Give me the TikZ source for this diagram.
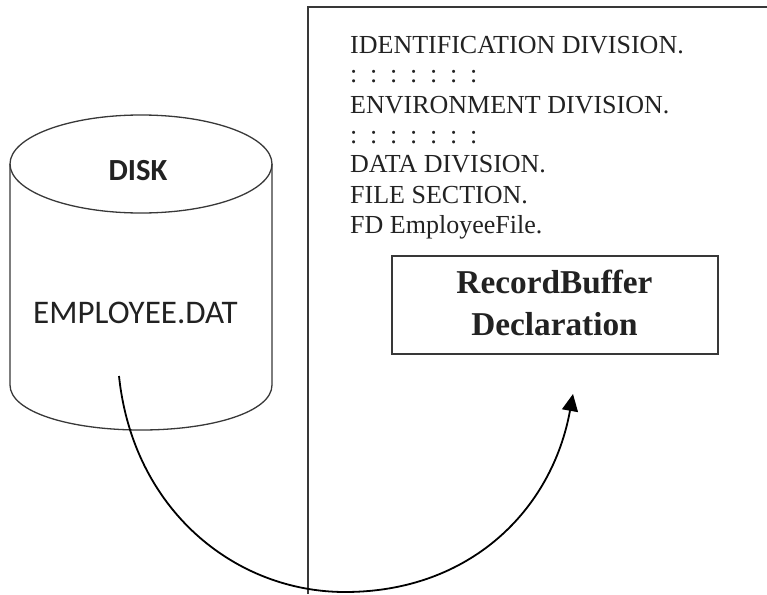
\documentclass[tikz,border=0pt]{standalone}
\usepackage{fontspec}
\setmainfont{Liberation Serif}
\newfontfamily\calibrifont{Carlito}
\usetikzlibrary{arrows.meta}
\definecolor{ink}{HTML}{222222}
\newcommand\widewords{\spaceskip 10.6pt\relax}
\tikzset{
  outline/.style={draw=ink!90!white,line width=1.3pt},
  codeline/.style={anchor=base west,inner sep=0pt,font=\fontsize{26}{26}\selectfont,text=ink},
  disklabel/.style={inner sep=0pt,anchor=base,text=ink},
  boxlabel/.style={inner sep=0pt,anchor=base,text=ink,font=\bfseries\fontsize{33.3}{33.3}\selectfont},
  flow/.style={draw=black,line width=1.8pt,-{Triangle[length=17pt,width=16pt]}}
}
\begin{document}
\begin{tikzpicture}[x=1pt,y=-1pt]
\useasboundingbox (0,0) rectangle (767,594);
% disk
\draw[outline] (10,164) -- (10,385) .. controls (10,412) and (70,430) .. (141,430) .. controls (212,430) and (272,412) .. (272,385) -- (272,164);
\draw[outline] (141,164) ellipse [x radius=131,y radius=49];
\node[disklabel,font=\calibrifont\bfseries\fontsize{30.7}{30.7}\selectfont] (disk) at (138,180) {DISK};
\node[disklabel,font=\calibrifont\fontsize{33}{33}\selectfont] (file) at (135.5,323) {EMPLOYEE.DAT};
% program panel
\draw[outline] (767,7) -- (308,7) -- (308,594);
\node[codeline] (l1) at (350,53) {IDENTIFICATION DIVISION.};
\node[codeline] (l2) at (350,82) {\widewords : : : : : : :};
\node[codeline] (l3) at (350,113) {ENVIRONMENT DIVISION.};
\node[codeline] (l4) at (350,143) {\widewords : : : : : : :};
\node[codeline] (l5) at (350,172) {DATA DIVISION.};
\node[codeline] (l6) at (350,203) {FILE SECTION.};
\node[codeline] (l7) at (350,233) {FD EmployeeFile.};
% record buffer
\node[outline,draw,minimum width=326pt,minimum height=98pt,inner sep=0pt] (buf) at (555,305) {};
\node[boxlabel] (b1) at (554.5,293) {RecordBuffer};
\node[boxlabel] (b2) at (554.5,335.5) {Declaration};
% arrow
\coordinate (from) at (119,376);
\coordinate (low) at (345,592);
\coordinate (to) at (573,394);
\draw[flow] (from) .. controls (133,510) and (235,592) .. (low) .. controls (470,592) and (552,510) .. (to);
\end{tikzpicture}
\end{document}
